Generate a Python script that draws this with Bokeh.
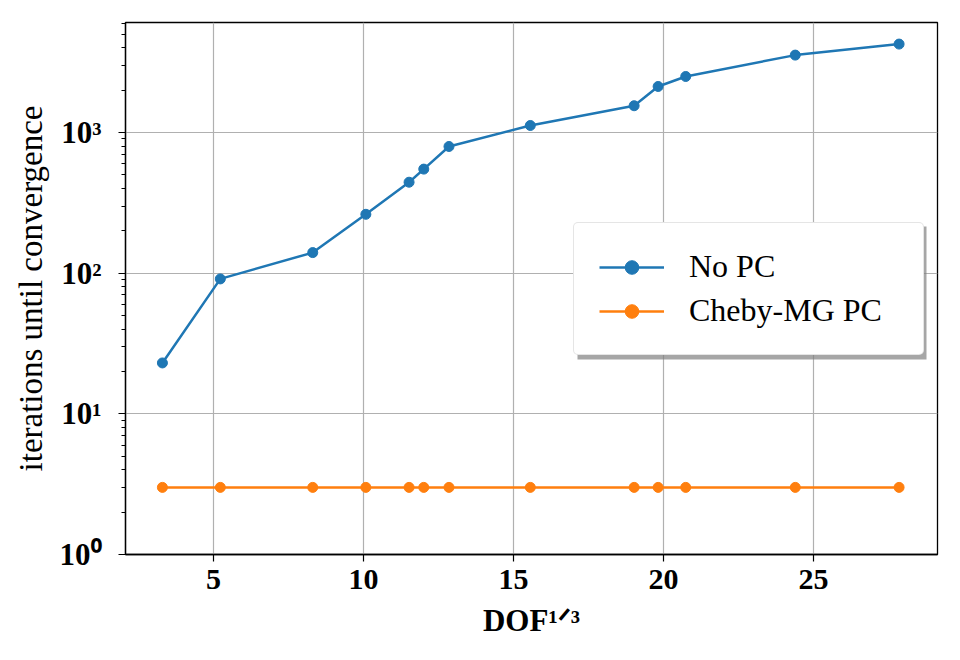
from bokeh.plotting import figure
from bokeh.models import (FixedTicker, Legend, LegendItem, BoxAnnotation, Range1d)
from bokeh.embed import file_html
from bokeh.resources import INLINE

# ---- data ----
dof_cbrt = [3.30, 5.23, 8.31, 10.08, 11.52, 12.01, 12.85, 15.56, 19.02, 19.82, 20.74, 24.39, 27.85]
iters_no_pc = [23, 91, 140, 262, 443, 549, 795, 1121, 1549, 2123, 2500, 3548, 4250]
iters_cheby = [3, 3, 3, 3, 3, 3, 3, 3, 3, 3, 3, 3, 3]
series_names = ["No PC", "Cheby-MG PC"]
x_ticks = [5, 10, 15, 20, 25]
y_ticks = [1, 10, 100, 1000]
y_tick_labels = ["10\u2070", "10\u00b9", "10\u00b2", "10\u00b3"]
x_label = "DOF\u00b9\u141f\u00b3"
y_label = "iterations until convergence"

BLUE = "#1f77b4"
ORANGE = "#ff7f0e"
SERIF = "Liberation Serif"

p = figure(width=960, height=660, y_axis_type="log",
           x_range=Range1d(2.07, 29.13), y_range=Range1d(1, 6050),
           output_backend="svg", toolbar_location=None,
           min_border_left=125, min_border_right=23,
           min_border_top=22, min_border_bottom=106)
p.background_fill_color = "white"
p.border_fill_color = "white"
p.outline_line_color = "black"
p.outline_line_width = 1.3
p.outline_line_alpha = 1.0

# grid
for g in (p.xgrid, p.ygrid):
    g.grid_line_color = "#b0b0b0"
    g.grid_line_width = 1.2
p.ygrid.minor_grid_line_color = None

# x axis
xa = p.xaxis[0]
xa.ticker = FixedTicker(ticks=x_ticks, minor_ticks=[])
xa.major_tick_out = 7
xa.major_tick_in = 0
xa.minor_tick_out = 0
xa.minor_tick_in = 0
xa.major_tick_line_width = 1.2
xa.axis_line_width = 1.3
xa.major_label_text_font = SERIF
xa.major_label_text_font_style = "bold"
xa.major_label_text_font_size = "30px"
xa.major_label_text_color = "black"
xa.major_label_standoff = 8
xa.axis_label = x_label
xa.axis_label_text_font = SERIF
xa.axis_label_text_font_style = "bold"
xa.axis_label_text_font_size = "31px"
xa.axis_label_text_color = "black"
xa.axis_label_standoff = 11

# y axis
minor = []
for d in [1, 10, 100, 1000]:
    for m in range(2, 10):
        v = d * m
        if v <= 6050:
            minor.append(v)
ya = p.yaxis[0]
ya.ticker = FixedTicker(ticks=y_ticks, minor_ticks=minor)
ya.major_label_overrides = {t: lab for t, lab in zip(y_ticks, y_tick_labels)}
ya.major_tick_out = 7
ya.major_tick_in = 0
ya.minor_tick_out = 4
ya.minor_tick_in = 0
ya.major_tick_line_width = 1.2
ya.minor_tick_line_width = 1.0
ya.axis_line_width = 1.3
ya.major_label_text_font = SERIF
ya.major_label_text_font_style = "bold"
ya.major_label_text_font_size = "31px"
ya.major_label_text_color = "black"
ya.major_label_standoff = 17
ya.axis_label = y_label
ya.axis_label_text_font = SERIF
ya.axis_label_text_font_style = "normal"
ya.axis_label_text_font_size = "33px"
ya.axis_label_text_color = "black"
ya.axis_label_standoff = 8

# data
l1 = p.line(dof_cbrt, iters_no_pc, line_color=BLUE, line_width=2.5)
c1 = p.scatter(dof_cbrt, iters_no_pc, marker="circle", size=10, fill_color=BLUE, line_color=BLUE)
l2 = p.line(dof_cbrt, iters_cheby, line_color=ORANGE, line_width=2.5)
c2 = p.scatter(dof_cbrt, iters_cheby, marker="circle", size=10, fill_color=ORANGE, line_color=ORANGE)

# legend shadow
LX, LY, LW, LH = 448, 199, 349, 133
p.add_layout(BoxAnnotation(left=LX + 4, right=LX + LW + 4, bottom=LY - 4, top=LY + LH - 4,
                           left_units="screen", right_units="screen",
                           bottom_units="screen", top_units="screen",
                           fill_color="#808080", fill_alpha=0.7, line_color=None))

legend = Legend(items=[LegendItem(label=series_names[0], renderers=[l1, c1]),
                       LegendItem(label=series_names[1], renderers=[l2, c2])],
                location=(LX, LY))
legend.label_text_font = SERIF
legend.label_text_font_size = "32px"
legend.label_text_color = "black"
legend.label_height = 34
legend.glyph_height = 34
legend.glyph_width = 65
legend.label_width = 209
legend.label_standoff = 25
legend.spacing = 7
legend.padding = 25
legend.margin = 0
legend.border_line_color = "#cccccc"
legend.border_line_width = 1
legend.background_fill_color = "white"
legend.background_fill_alpha = 1.0
try:
    legend.border_radius = 5
except Exception:
    pass
p.add_layout(legend, "center")

open("out.html", "w").write(file_html(p, INLINE))
